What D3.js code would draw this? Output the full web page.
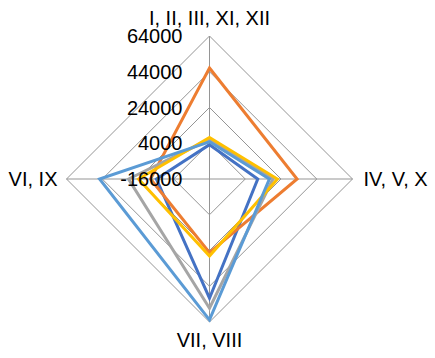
<!DOCTYPE html>
<html>
<head>
<meta charset="utf-8">
<script src="https://cdn.jsdelivr.net/npm/d3@7"></script>
<style>
  html, body { margin: 0; padding: 0; background: #fff; }
  svg { display: block; }
  text { font-family: "Liberation Sans", Arial, sans-serif; fill: #000; }
</style>
</head>
<body>
<svg id="chart" width="435" height="358"></svg>
<script>
// Data
const categories = ["I, II, III, XI, XII", "IV, V, X", "VII, VIII", "VI, IX"];
const tickValues = [-16000, 4000, 24000, 44000, 64000];
const seriesNames = ["Series 1", "Series 2", "Series 3", "Series 4", "Series 5"];
const series1 = [3200, 11000, 50700, 13700];   // dark blue
const series2 = [46100, 33000, 25200, 17000];  // orange
const series3 = [6200, 19500, 56300, 29300];   // gray
const series4 = [7200, 22000, 27100, 23700];   // yellow
const series5 = [4800, 17500, 62800, 45500];   // light blue
const seriesColors = ["#4472C4", "#ED7D31", "#A5A5A5", "#FFC000", "#5B9BD5"];
const allSeries = [series1, series2, series3, series4, series5];

const svg = d3.select("#chart");
const cx = 209.5, cy = 179, R = 143;

const r = d3.scaleLinear().domain([-16000, 64000]).range([0, R]);
const angle = d3.scalePoint().domain(d3.range(categories.length)).range([0, 2 * Math.PI * (categories.length - 1) / categories.length]);

function pt(i, v) {
  const a = angle(i) - Math.PI / 2;
  return [cx + r(v) * Math.cos(a), cy + r(v) * Math.sin(a)];
}

const g = svg.append("g");

// grid polygons
tickValues.slice(1).forEach(t => {
  const pts = categories.map((c, i) => pt(i, t));
  g.append("polygon")
    .attr("points", pts.map(p => p.join(",")).join(" "))
    .attr("fill", "none")
    .attr("stroke", "#959595")
    .attr("stroke-width", 1);
});

// spokes
categories.forEach((c, i) => {
  const p = pt(i, 64000);
  g.append("line")
    .attr("x1", cx).attr("y1", cy)
    .attr("x2", p[0]).attr("y2", p[1])
    .attr("stroke", "#959595")
    .attr("stroke-width", 1);
});

// series
const line = d3.line().curve(d3.curveLinearClosed);
allSeries.forEach((s, k) => {
  g.append("path")
    .attr("d", line(s.map((v, i) => pt(i, v))))
    .attr("fill", "none")
    .attr("stroke", seriesColors[k])
    .attr("stroke-width", 3)
    .attr("stroke-linejoin", "miter");
});

// tick labels
tickValues.forEach(t => {
  g.append("text")
    .attr("x", cx - 27)
    .attr("y", cy - r(t))
    .attr("dy", "0.35em")
    .attr("text-anchor", "end")
    .attr("font-size", 20)
    .text(t);
});

// category labels
const labelPos = [
  {dx: 0, dy: -18, anchor: "middle", base: "0.35em"},
  {dx: 11, dy: 0, anchor: "start", base: "0.35em"},
  {dx: 0, dy: 18, anchor: "middle", base: "0.35em"},
  {dx: -9, dy: 0, anchor: "end", base: "0.35em"}
];
categories.forEach((c, i) => {
  const p = pt(i, 64000);
  const lp = labelPos[i];
  g.append("text")
    .attr("x", p[0] + lp.dx)
    .attr("y", p[1] + lp.dy)
    .attr("dy", lp.base)
    .attr("text-anchor", lp.anchor)
    .attr("font-size", 20)
    .text(c);
});
</script>
</body>
</html>
